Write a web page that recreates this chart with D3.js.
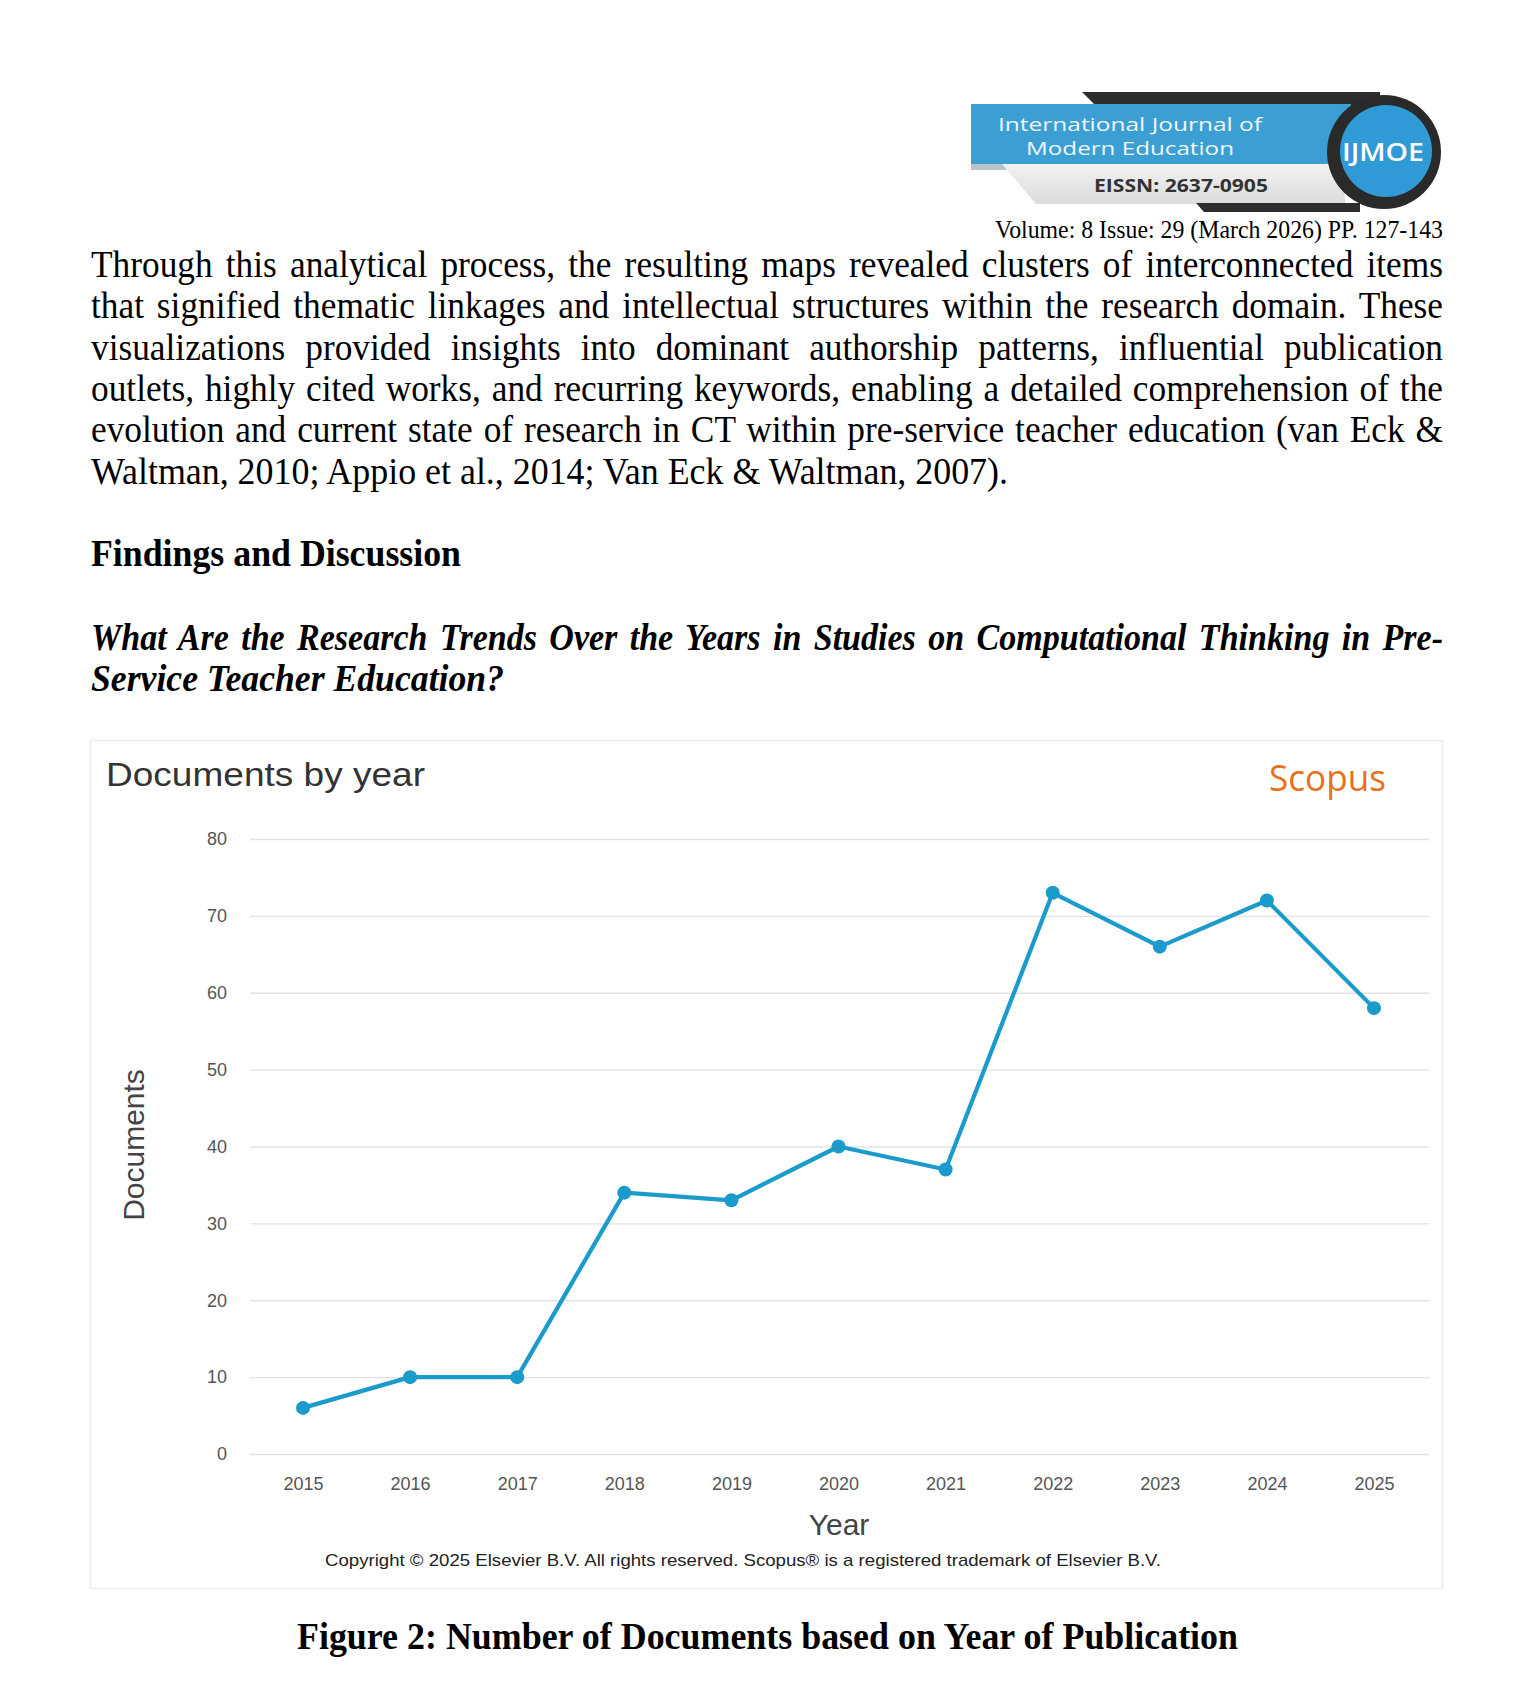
<!DOCTYPE html>
<html>
<head>
<meta charset="utf-8">
<script src="https://cdn.jsdelivr.net/npm/d3@7"></script>
<style>
  html, body { margin: 0; padding: 0; background: #fff; }
  svg { display: block; }
</style>
</head>
<body>
<svg id="page" width="1534" height="1681"></svg>
<script>
// ---------- data ----------
const years = ["2015","2016","2017","2018","2019","2020","2021","2022","2023","2024","2025"];
const documents = [6, 10, 10, 34, 33, 40, 37, 73, 66, 72, 58];
const yTicks = [0, 10, 20, 30, 40, 50, 60, 70, 80];

const paragraphLines = [
  "Through this analytical process, the resulting maps revealed clusters of interconnected items",
  "that signified thematic linkages and intellectual structures within the research domain. These",
  "visualizations provided insights into dominant authorship patterns, influential publication",
  "outlets, highly cited works, and recurring keywords, enabling a detailed comprehension of the",
  "evolution and current state of research in CT within pre-service teacher education (van Eck &",
  "Waltman, 2010; Appio et al., 2014; Van Eck & Waltman, 2007)."
];
const headingLines = [
  "What Are the Research Trends Over the Years in Studies on Computational Thinking in Pre-",
  "Service Teacher Education?"
];

// ---------- helpers ----------
const svg = d3.select("#page");
svg.append("rect").attr("width", 1534).attr("height", 1681).attr("fill", "#fff");

function fitText(sel, target, justify) {
  const node = sel.node();
  const w = node.getComputedTextLength();
  const txt = node.textContent;
  const spaces = (txt.match(/ /g) || []).length;
  if (justify && target > w && spaces > 0) {
    sel.attr("word-spacing", (target - w) / spaces);
  } else {
    sel.attr("textLength", target).attr("lengthAdjust", "spacingAndGlyphs");
  }
}

const serif = "'Liberation Serif', 'Times New Roman', Times, serif";
const sans = "'Liberation Sans', Arial, Helvetica, sans-serif";
const logoFont = "'Open Sans', 'Noto Sans', sans-serif";

// condensed serif line: horizontal scale sx, then justify / fit in unscaled units
function serifLine(txt, x, y, opts) {
  const sx = opts.sx;
  const g = svg.append("g").attr("transform", `translate(${x},${y}) scale(${sx},1)`);
  const t = g.append("text").attr("x", 0).attr("y", 0)
    .attr("font-family", serif).attr("font-size", opts.size).attr("fill", "#000")
    .attr("font-weight", opts.bold ? "bold" : "normal")
    .attr("font-style", opts.italic ? "italic" : "normal")
    .text(txt);
  fitText(t, opts.width / sx, opts.justify);
  return t;
}

// ---------- logo ----------
const logo = svg.append("g");
logo.append("polygon").attr("points", "1082,92 1380,92 1380,106 1096,106").attr("fill", "#2d2d2d");
logo.append("rect").attr("x", 971).attr("y", 104).attr("width", 380).attr("height", 60).attr("fill", "#3b9fd3");
logo.append("polygon").attr("points", "971,164 1003,164 1010,170 971,170").attr("fill", "#b9c4ca");
const grad = svg.append("defs").append("linearGradient").attr("id", "gband").attr("x1", 0).attr("x2", 0).attr("y1", 0).attr("y2", 1);
grad.append("stop").attr("offset", "0").attr("stop-color", "#f2f2f2");
grad.append("stop").attr("offset", "1").attr("stop-color", "#dcdcdc");
logo.append("polygon").attr("points", "1002,164 1345,164 1345,204 1036,204").attr("fill", "url(#gband)");
logo.append("polygon").attr("points", "1196,203 1360,203 1360,212 1204,212").attr("fill", "#2d2d2d");
logo.append("circle").attr("cx", 1384).attr("cy", 152).attr("r", 57).attr("fill", "#2a2a2a");
logo.append("circle").attr("cx", 1386).attr("cy", 151).attr("r", 46).attr("fill", "#2f9ad6");
const lt1 = logo.append("text").attr("x", 998).attr("y", 131).attr("fill", "#eef7fc")
  .attr("font-family", logoFont).attr("font-weight", 500).attr("font-size", 19)
  .text("International Journal of");
fitText(lt1, 264, false);
const lt2 = logo.append("text").attr("x", 1026).attr("y", 155).attr("fill", "#eef7fc")
  .attr("font-family", logoFont).attr("font-weight", 500).attr("font-size", 19)
  .text("Modern Education");
fitText(lt2, 208, false);
const lt3 = logo.append("text").attr("x", 1094).attr("y", 192).attr("fill", "#333")
  .attr("font-family", logoFont).attr("font-weight", 700).attr("font-size", 18)
  .text("EISSN: 2637-0905");
fitText(lt3, 174, false);
const lt4 = logo.append("text").attr("x", 1342).attr("y", 161).attr("fill", "#fff")
  .attr("font-family", logoFont).attr("font-weight", 600).attr("font-size", 25)
  .text("IJMOE");
fitText(lt4, 82, false);

// volume line
const vol = svg.append("text").attr("x", 995).attr("y", 238).attr("fill", "#000")
  .attr("font-family", serif).attr("font-size", 25)
  .text("Volume: 8 Issue: 29 (March 2026) PP. 127-143");
fitText(vol, 448, false);

// ---------- paragraph ----------
paragraphLines.forEach((line, i) => {
  const last = i === paragraphLines.length - 1;
  serifLine(line, 91, 277 + i * 41.3,
    { size: 37, sx: 0.955, width: last ? 917 : 1352, justify: !last });
});

serifLine("Findings and Discussion", 91, 566, { size: 37, sx: 0.93, bold: true, width: 370, justify: false });

headingLines.forEach((line, i) => {
  serifLine(line, 91, 650 + i * 40.5,
    { size: 37, sx: 0.92, bold: true, italic: true, width: i === 0 ? 1352 : 413, justify: i === 0 });
});

// ---------- chart panel ----------
svg.append("rect").attr("x", 90.5).attr("y", 740.5).attr("width", 1352).attr("height", 848)
  .attr("fill", "#fff").attr("stroke", "#ececec").attr("stroke-width", 1.5);

const title = svg.append("text").attr("x", 106).attr("y", 786).attr("fill", "#333")
  .attr("font-family", sans).attr("font-size", 34).text("Documents by year");
fitText(title, 319, false);

const scopus = svg.append("text").attr("x", 1269).attr("y", 791).attr("fill", "#e9711c")
  .attr("font-family", logoFont).attr("font-size", 36).text("Scopus");
fitText(scopus, 117, false);

const x = d3.scalePoint().domain(years).range([303, 1374]);
const y = d3.scaleLinear().domain([0, 80]).range([1454, 839]);

// gridlines via axis
const yAxis = svg.append("g").attr("transform", "translate(250,0)")
  .call(d3.axisLeft(y).tickValues(yTicks).tickSize(-1179).tickPadding(23).tickFormat(d3.format("d")));
yAxis.select(".domain").remove();
yAxis.selectAll(".tick line").attr("stroke", "#e2e2e2").attr("stroke-width", 1.3);
yAxis.selectAll(".tick text").attr("fill", "#555").attr("font-family", sans).attr("font-size", 18);

const xAxis = svg.append("g").attr("transform", "translate(0,1454)")
  .call(d3.axisBottom(x).tickSize(0).tickPadding(23));
xAxis.select(".domain").remove();
xAxis.selectAll(".tick text").attr("fill", "#555").attr("font-family", sans).attr("font-size", 18);

// line + points
const pts = years.map((yr, i) => ({ year: yr, value: documents[i] }));
svg.append("path").datum(pts)
  .attr("fill", "none").attr("stroke", "#1a9bcb").attr("stroke-width", 4.2)
  .attr("stroke-linejoin", "round")
  .attr("d", d3.line().x(d => x(d.year)).y(d => y(d.value)));
svg.selectAll("circle.pt").data(pts).enter().append("circle").attr("class", "pt")
  .attr("cx", d => x(d.year)).attr("cy", d => y(d.value)).attr("r", 7).attr("fill", "#1a9bcb");

// axis titles
svg.append("text").attr("x", 839).attr("y", 1535).attr("text-anchor", "middle")
  .attr("fill", "#444").attr("font-family", sans).attr("font-size", 30).text("Year");
svg.append("text").attr("transform", "translate(144,1145) rotate(-90)").attr("text-anchor", "middle")
  .attr("fill", "#444").attr("font-family", sans).attr("font-size", 30).text("Documents");

const copy = svg.append("text").attr("x", 325).attr("y", 1566).attr("fill", "#222")
  .attr("font-family", sans).attr("font-size", 17)
  .text("Copyright © 2025 Elsevier B.V. All rights reserved. Scopus® is a registered trademark of Elsevier B.V.");
fitText(copy, 836, false);

// caption
serifLine("Figure 2: Number of Documents based on Year of Publication", 297, 1649,
  { size: 37, sx: 0.93, bold: true, width: 941, justify: false });
</script>
</body>
</html>
